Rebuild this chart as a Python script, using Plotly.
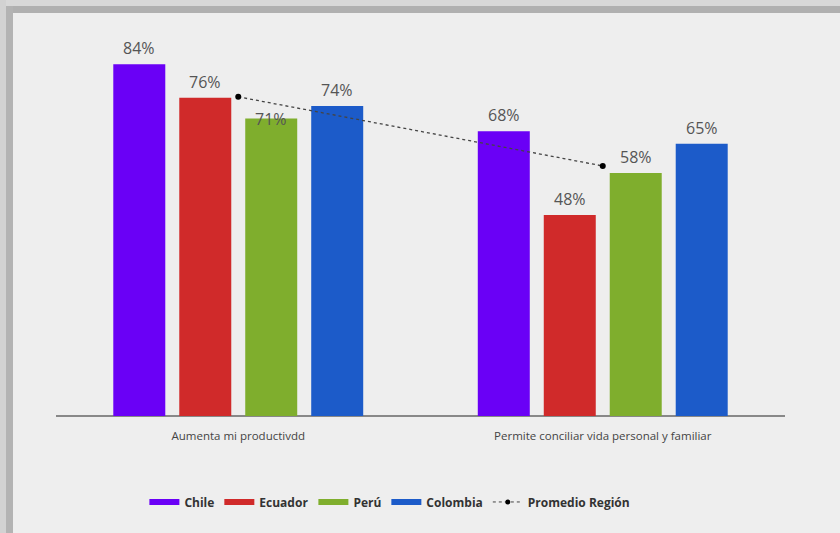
import plotly.graph_objects as go

categories = ["Aumenta mi productivdd", "Permite conciliar vida personal y familiar"]
series_names = ["Chile", "Ecuador", "Perú", "Colombia"]
chile = [84, 68]
ecuador = [76, 48]
peru = [71, 58]
colombia = [74, 65]
promedio = [76.2, 59.7]
promedio_name = "Promedio Región"

colors = ["#6a00f6", "#d02a2a", "#7fae2d", "#1c5bc9"]
values = [chile, ecuador, peru, colombia]

W, H = 840, 533
ml, mr, mt, mb = 56, 55, 39, 117
bargap = 0.276
bargroupgap = 0.212
ymax = 90

fig = go.Figure()
xs = list(range(len(categories)))
for name, vals, col in zip(series_names, values, colors):
    fig.add_trace(go.Bar(x=xs, y=vals, name=name, marker=dict(color=col, line=dict(width=0)),
                         showlegend=False, hoverinfo="skip"))

fig.add_trace(go.Scatter(x=xs, y=promedio, mode="lines+markers", name=promedio_name,
                         line=dict(color="#444444", width=1.3, dash="dot"),
                         marker=dict(color="#000000", size=6), showlegend=False))

# legend entries
for name, col in zip(series_names, colors):
    fig.add_trace(go.Scatter(x=[None], y=[None], mode="lines", name=name,
                             line=dict(color=col, width=6)))
fig.add_trace(go.Scatter(x=[None], y=[None], mode="lines+markers", name=promedio_name,
                         line=dict(color="#444444", width=1, dash="dot"),
                         marker=dict(color="#000000", size=5)))

# value labels
slot = (1 - bargap) / len(series_names)
for k, vals in enumerate(values):
    for i, v in enumerate(vals):
        off = (k - (len(series_names) - 1) / 2) * slot
        ysh = 16
        if series_names[k] == "Perú" and i == 0:
            ysh = 0
        fig.add_annotation(x=i + off, y=v, text=f"{v}%", showarrow=False,
                           yshift=ysh, xref="x", yref="y",
                           font=dict(family="Open Sans", size=16, color="#555555"))

# frame border (top and left)
pw = W - ml - mr
ph = H - mt - mb
def px_x(p):
    return (p - ml) / pw
def px_y(p):
    return (H - mb - p) / ph
shapes = [
    dict(type="rect", xref="paper", yref="paper", x0=px_x(0), x1=px_x(W), y0=px_y(6), y1=px_y(0),
         fillcolor="#d8d8d8", line=dict(width=0), layer="below"),
    dict(type="rect", xref="paper", yref="paper", x0=px_x(0), x1=px_x(6), y0=px_y(H), y1=px_y(0),
         fillcolor="#d2d2d2", line=dict(width=0), layer="below"),
    dict(type="rect", xref="paper", yref="paper", x0=px_x(6), x1=px_x(W), y0=px_y(13), y1=px_y(6),
         fillcolor="#b0b0b0", line=dict(width=0), layer="below"),
    dict(type="rect", xref="paper", yref="paper", x0=px_x(6), x1=px_x(13), y0=px_y(H), y1=px_y(6),
         fillcolor="#b3b3b3", line=dict(width=0), layer="below"),
]

fig.update_layout(
    width=W, height=H,
    margin=dict(l=ml, r=mr, t=mt, b=mb),
    paper_bgcolor="#eeeeee", plot_bgcolor="#eeeeee",
    barmode="group", bargap=bargap, bargroupgap=bargroupgap,
    shapes=shapes,
    font=dict(family="Open Sans", color="#444444"),
    xaxis=dict(range=[-0.5, len(categories) - 0.5], tickvals=xs, ticktext=categories,
               showgrid=False, zeroline=False, showline=False,
               ticks="", tickfont=dict(size=11.5, color="#444444"), ticklabelstandoff=11),
    yaxis=dict(range=[0, ymax], showticklabels=False, ticks="", showgrid=False, showline=False,
               zeroline=True, zerolinecolor="#888888", zerolinewidth=2),
    legend=dict(orientation="h", x=0.458, xanchor="center", y=-0.228, yanchor="middle",
                font=dict(family="Open Sans", size=12, color="#333333", weight="bold"),
                bgcolor="rgba(0,0,0,0)", itemwidth=30, tracegroupgap=0),
    showlegend=True,
)

fig.write_html("out.html")
